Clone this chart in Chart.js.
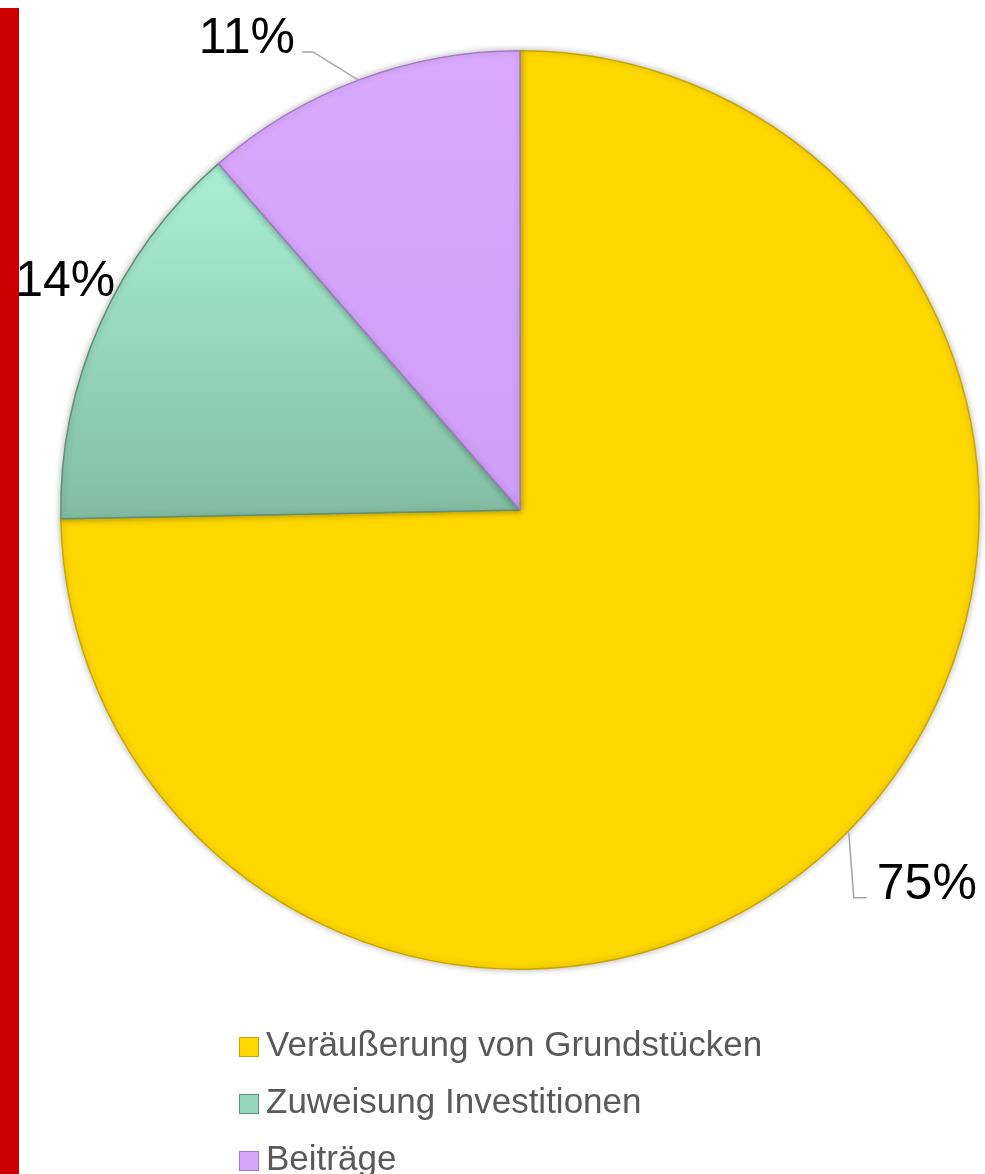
<!DOCTYPE html>
<html>
<head>
<meta charset="utf-8">
<script src="https://cdn.jsdelivr.net/npm/chart.js@4/dist/chart.umd.min.js"></script>
<style>
  html, body { margin:0; padding:0; background:#fff; }
  #wrap { position:relative; width:985px; height:1174px; overflow:hidden; }
  #bar { position:absolute; left:0; top:8px; width:19px; height:1166px; background:#cc0000; }
  #legend { position:absolute; left:239px; top:1024px; font-family:'Liberation Sans', Arial, sans-serif; font-size:35px; color:#595959; }
  #legend div { height:57px; line-height:40px; white-space:nowrap; }
  #legend span { display:inline-block; width:20px; height:20px; margin-right:7px; vertical-align:-1px; }
</style>
</head>
<body>
<div id="wrap">
  <div id="bar"></div>
  <canvas id="pieChart" width="985" height="1174"></canvas>
  <div id="legend"></div>
</div>
<script>
const categories = ['Veräußerung von Grundstücken', 'Zuweisung Investitionen', 'Beiträge'];
const shares = [74.7, 13.9, 11.4];
const shareLabels = ['75%', '14%', '11%'];

const fills = ['#FFD700', '#93D6BB', '#D7A5FB'];
const edges = ['#C7A600', '#5F907B', '#A27CC4'];

// label placement relative to the middle of each slice's outer edge
const labelPos = [
    {text:[29, 67], align:'left', line:[[1,1],[6,66],[19,66]]},
    {text:[-35, -28], align:'center', line:null},
    {text:[-64, -27], align:'right', line:[[-1,0],[-46,-28],[-57,-28]]}
];

function sliceFill(ctx){
    const i = ctx.dataIndex;
    const area = ctx.chart.chartArea;
    if (!area) return fills[i];
    const c = ctx.chart.ctx;
    const cy = (area.top + area.bottom) / 2;
    const r = (area.bottom - area.top) / 2;
    if (i == 1) {
        const g = c.createLinearGradient(0, cy - r*0.76, 0, cy);
        g.addColorStop(0, '#AAF0D6');
        g.addColorStop(1, '#83BEA4');
        return g;
    }
    if (i == 2) {
        const g = c.createLinearGradient(0, cy - r, 0, cy);
        g.addColorStop(0, '#DAA9FD');
        g.addColorStop(1, '#D09DF8');
        return g;
    }
    return fills[i];
}

const pieLabels = {
    id:'pieLabels',
    beforeDatasetsDraw(chart){
        const c = chart.ctx;
        c.save();
        c.shadowColor = 'rgba(0,0,0,0.28)';
        c.shadowBlur = 7;
    },
    afterDatasetsDraw(chart){
        const c = chart.ctx;
        c.restore();
        const arcs = chart.getDatasetMeta(0).data;
        c.save();
        arcs.forEach(function(arc, i){
            const p = arc.getProps(['x','y','startAngle','endAngle','outerRadius'], true);
            const mid = (p.startAngle + p.endAngle) / 2;
            const ax = p.x + Math.cos(mid) * p.outerRadius;
            const ay = p.y + Math.sin(mid) * p.outerRadius;
            const lp = labelPos[i];
            if (lp.line) {
                c.strokeStyle = '#A6A6A6';
                c.lineWidth = 1.5;
                c.beginPath();
                lp.line.forEach(function(pt, k){
                    if (k == 0) c.moveTo(ax + pt[0], ay + pt[1]);
                    else c.lineTo(ax + pt[0], ay + pt[1]);
                });
                c.stroke();
            }
            c.fillStyle = '#000';
            c.font = '50px "Liberation Sans", Arial, sans-serif';
            c.textAlign = lp.align;
            c.textBaseline = 'alphabetic';
            c.fillText(shareLabels[i], ax + lp.text[0], ay + lp.text[1]);
        });
        c.restore();
    }
};

const chart = new Chart(document.getElementById('pieChart'), {
    type:'pie',
    data:{
        labels:categories,
        datasets:[{
            data:shares,
            backgroundColor:sliceFill,
            borderColor:edges,
            borderWidth:1.5
        }]
    },
    options:{
        responsive:false,
        animation:false,
        devicePixelRatio:1,
        layout:{padding:{left:60, right:5, top:50, bottom:204}},
        plugins:{
            legend:{display:false},
            tooltip:{enabled:false}
        }
    },
    plugins:[pieLabels]
});

const legend = document.getElementById('legend');
categories.forEach(function(name, i){
    const row = document.createElement('div');
    const box = document.createElement('span');
    box.style.background = fills[i];
    box.style.border = '1px solid ' + edges[i];
    box.style.boxSizing = 'border-box';
    row.appendChild(box);
    row.appendChild(document.createTextNode(name));
    legend.appendChild(row);
});
</script>
</body>
</html>
